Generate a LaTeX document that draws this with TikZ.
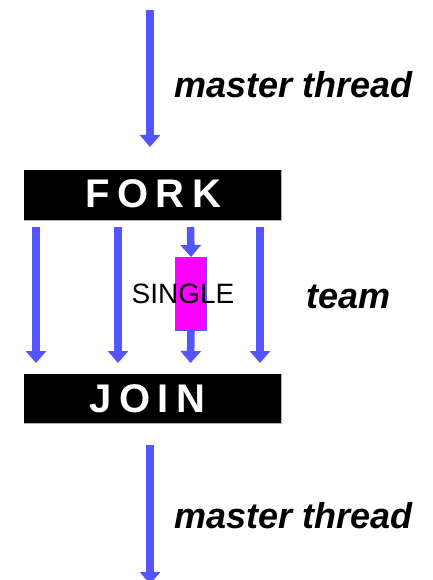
\documentclass[tikz,border=0pt]{standalone}
\usepackage{fontspec}
\setmainfont{Liberation Sans}
\usetikzlibrary{arrows.meta}
\definecolor{thr}{RGB}{85,85,255}
\definecolor{mag}{RGB}{255,0,255}
\begin{document}
\begin{tikzpicture}[x=1pt,y=-1pt,
  thread/.style={draw=thr, line width=7.5pt, -{Triangle[width=20pt,length=12pt]}},
  bar/.style={fill=black, minimum width=257pt, inner sep=0pt, anchor=north west},
  barrim/.style={draw=gray!60, line width=1pt},
  bartext/.style={text=white, inner sep=0pt, anchor=base west,
    font=\fontsize{40}{44}\selectfont\bfseries\addfontfeature{LetterSpace=19}},
  lab/.style={font=\fontsize{36}{40}\selectfont\bfseries\itshape, inner sep=0pt, anchor=base west},
  singlebox/.style={fill=mag, draw=thr, line width=1pt, minimum width=31pt, minimum height=73pt, inner sep=0pt, anchor=north west},
  singletext/.style={font=\fontsize{28}{32}\selectfont, inner sep=0pt, anchor=base west}
]
\useasboundingbox (0,0) rectangle (432,580);
\clip (0,0) rectangle (432,580);

% bars
\node[bar, minimum height=50pt] (fork) at (24,170) {};
\node[bar, minimum height=49pt] (join) at (24,374) {};
\draw[barrim] (fork.north east) -- (fork.south east) -- (fork.south west);
\draw[barrim] (join.north east) -- (join.south east) -- (join.south west);
\node[bartext] (forkt) at (85,207) {FORK};
\node[bartext] (joint) at (89,412) {JOIN};

% master thread in
\coordinate (m1s) at (150,10);
\coordinate (m1e) at (150,147);
\draw[thread] (m1s) -- (m1e);

% team threads
\coordinate (t1s) at (36,227);  \coordinate (t1e) at (36,363);
\coordinate (t2s) at (118,227); \coordinate (t2e) at (118,363);
\coordinate (t4s) at (260,227); \coordinate (t4e) at (260,363);
\coordinate (t3s) at (190.5,227); \coordinate (t3e) at (190.5,363);
\draw[thread] (t1s) -- (t1e);
\draw[thread] (t2s) -- (t2e);
\draw[thread] (t4s) -- (t4e);

\node[singlebox] (single) at (175,257) {};
\draw[thread] (t3s) -- (single.north);
\draw[thread] (single.south) -- (t3e);
\node[singletext] (singlet) at (131.5,303) {SINGLE};

% master thread out
\coordinate (m2s) at (150,445);
\coordinate (m2e) at (150,584);
\draw[thread] (m2s) -- (m2e);

% labels
\node[lab] (lab1) at (174,98) {master thread};
\node[lab] (lab2) at (306,308) {team};
\node[lab] (lab3) at (174,528) {master thread};
\end{tikzpicture}
\end{document}
